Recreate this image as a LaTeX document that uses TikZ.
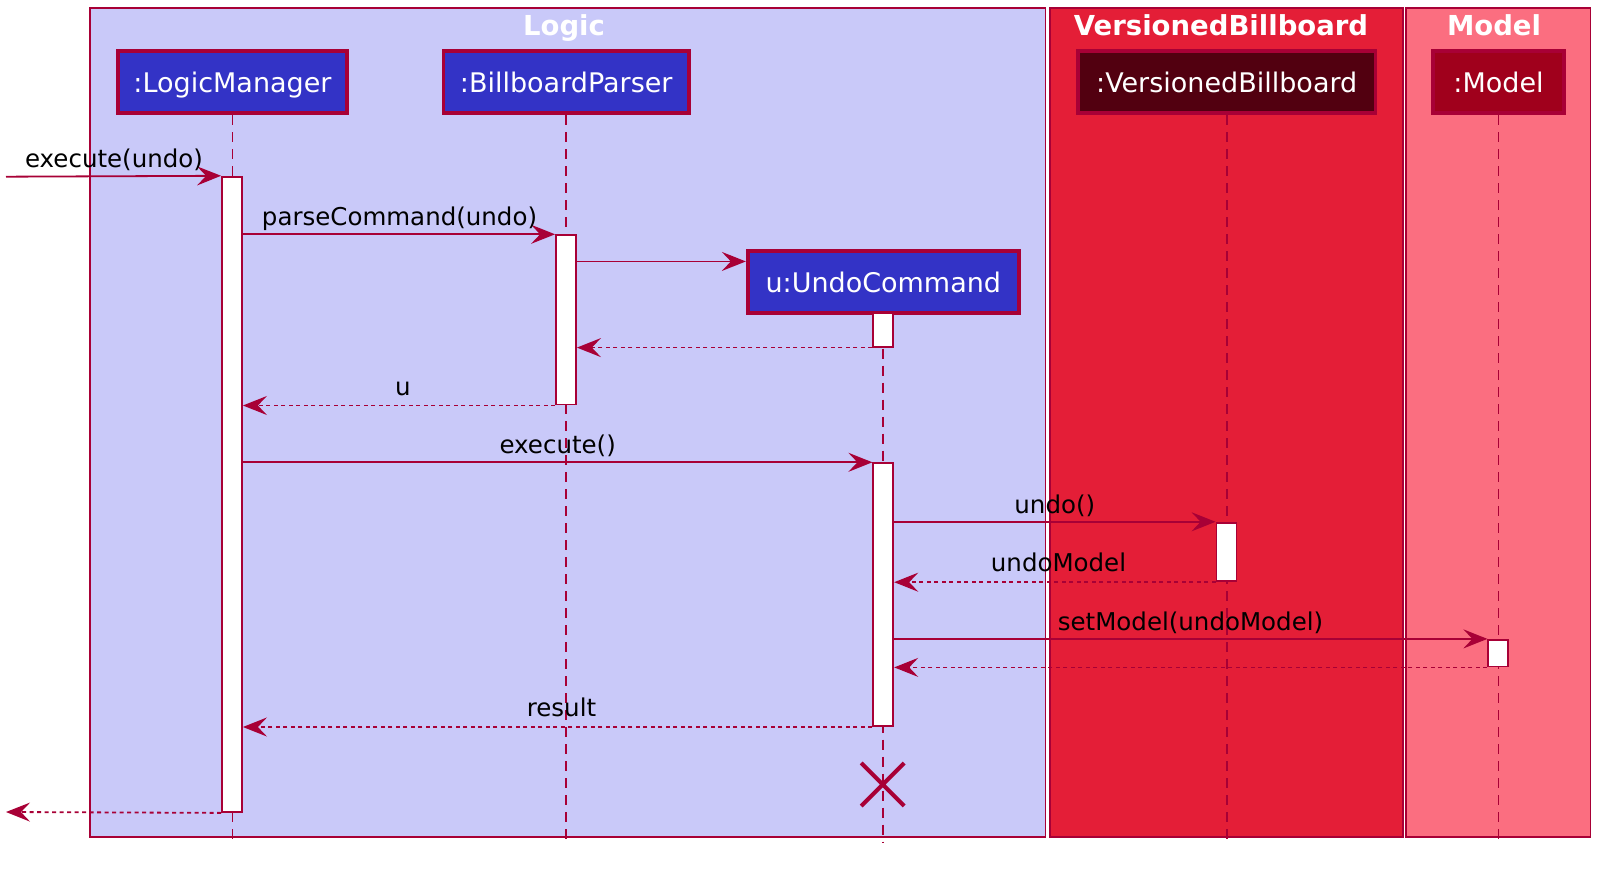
\documentclass[tikz,border=0pt]{standalone}
\usepackage{fontspec}
\setmainfont{DejaVu Sans}
\usetikzlibrary{arrows.meta,fit,shapes.misc}
\definecolor{bord}{HTML}{A80036}
\definecolor{logicfill}{HTML}{C9C9F9}
\definecolor{vbfill}{HTML}{E41E37}
\definecolor{modelfill}{HTML}{FB6E80}
\definecolor{partblue}{HTML}{3333C6}
\definecolor{partvb}{HTML}{520010}
\definecolor{partmodel}{HTML}{A0001C}
\begin{document}
\begin{tikzpicture}[x=0.5pt,y=-0.5pt,
  frame/.style={draw=bord, line width=0.9pt, inner sep=0pt},
  ftitle/.style={text=white, font=\fontsize{13.75}{16}\selectfont\bfseries, anchor=base, inner sep=0pt},
  part/.style={draw=bord, line width=1.85pt, inner sep=0pt},
  ptext/.style={text=white, font=\fontsize{13.5}{16}\selectfont, anchor=base, inner sep=0pt},
  act/.style={draw=bord, fill=white, line width=0.9pt, inner sep=0pt},
  lifeline/.style={draw=bord, line width=0.9pt, dash pattern=on 5pt off 3.5pt},
  msg/.style={draw=bord, line width=0.9pt, -{Stealth[length=12pt,width=9.5pt,inset=4.5pt]}},
  ret/.style={msg, dash pattern=on 2pt off 1.75pt},
  mlabel/.style={font=\fontsize{12.25}{14}\selectfont, anchor=base, inner sep=0pt, text=black}
]
\useasboundingbox[fill=white] (0,0) rectangle (1610,870);

% frames
\node[frame, fill=logicfill, fit={(90,8.3) (1045.5,836.7)}] (flogic) {};
\node[frame, fill=vbfill, fit={(1049.7,8.3) (1402.8,836.7)}] (fvb) {};
\node[frame, fill=modelfill, fit={(1405.8,8.3) (1590.4,836.7)}] (fmodel) {};
\node[ftitle] (tlogic) at (564,36) {Logic};
\node[ftitle] (tvb) at (1221,36) {VersionedBillboard};
\node[ftitle] (tmodel) at (1494,36) {Model};

% participants (boxes)
\node[part, fill=partblue, fit={(118,50.7) (347,113.3)}] (lm) {};
\node[part, fill=partblue, fit={(443.5,50.7) (689,113.3)}] (bp) {};
\node[part, fill=partvb, fit={(1078,50.7) (1375.5,113.3)}] (vb) {};
\node[part, fill=partmodel, fit={(1433,50.7) (1564,113.3)}] (md) {};
\node[part, fill=partblue, fit={(747.7,251) (1019,312.7)}] (uc) {};

% lifeline ends
\coordinate (lmend) at (lm.south |- 0,843);
\coordinate (bpend) at (bp.south |- 0,843);
\coordinate (vbend) at (vb.south |- 0,843);
\coordinate (mdend) at (md.south |- 0,843);
\coordinate (ucend) at (uc.south |- 0,843);
\draw[lifeline] (lm.south) -- (lmend);
\draw[lifeline] (bp.south) -- (bpend);
\draw[lifeline] (vb.south) -- (vbend);
\draw[lifeline] (md.south) -- (mdend);
\draw[lifeline] (uc.south) -- (ucend);

% participant texts
\node[ptext] (lmt) at (232.5,92.7) {:LogicManager};
\node[ptext] (bpt) at (566.2,92.7) {:BillboardParser};
\node[ptext] (vbt) at (1226.7,92.7) {:VersionedBillboard};
\node[ptext] (mdt) at (1498.5,92.7) {:Model};
\node[ptext] (uct) at (883.3,293) {u:UndoCommand};

% activations
\node[act, fit={(222,176.7) (242,812)}] (lma) {};
\node[act, fit={(556,235.2) (576,404.6)}] (bpa) {};
\node[act, fit={(873.3,312.7) (893.3,346.7)}] (uca1) {};
\node[act, fit={(873.3,463.2) (893.3,726.1)}] (uca2) {};
\node[act, fit={(1216.5,522.7) (1236.5,581.3)}] (vba) {};
\node[act, fit={(1488.3,639.8) (1508.3,666.5)}] (mda) {};

% destroy
\node[draw=bord, cross out, line width=2pt, minimum size=19.5pt, inner sep=0pt] (destroy) at (882.7,784.5) {};

% messages
\coordinate (ext1) at (6,176.7);
\coordinate (ext12) at (6,812);
\coordinate (m3) at ([yshift=-6.15pt]uc.north west);
\draw[msg] (ext1) -- (lma.north west);
\draw[msg] (lma.east |- bpa.north) -- (bpa.north west);
\draw[msg] (bpa.east |- m3) -- (m3);
\draw[ret] (uca1.south west) -- (bpa.east |- uca1.south);
\draw[ret] (bpa.south west) -- (lma.east |- bpa.south);
\draw[msg] (lma.east |- uca2.north) -- (uca2.north west);
\draw[msg] (uca2.east |- vba.north) -- (vba.north west);
\draw[ret] (vba.south west) -- (uca2.east |- vba.south);
\draw[msg] (uca2.east |- mda.north) -- (mda.north west);
\draw[ret] (mda.south west) -- (uca2.east |- mda.south);
\draw[ret] (uca2.south west) -- (lma.east |- uca2.south);
\draw[ret] (lma.south west) -- (ext12);

% message labels
\node[mlabel] (l1) at (114,167.3) {execute(undo)};
\node[mlabel] (l2) at (399.5,225.8) {parseCommand(undo)};
\node[mlabel] (l5) at (403,395.2) {u};
\node[mlabel] (l6) at (557.7,453.8) {execute()};
\node[mlabel] (l7) at (1054.8,513.3) {undo()};
\node[mlabel] (l8) at (1058.5,571.9) {undoModel};
\node[mlabel] (l9) at (1190.5,630.4) {setModel(undoModel)};
\node[mlabel] (l11) at (561.5,716.7) {result};
\end{tikzpicture}
\end{document}
